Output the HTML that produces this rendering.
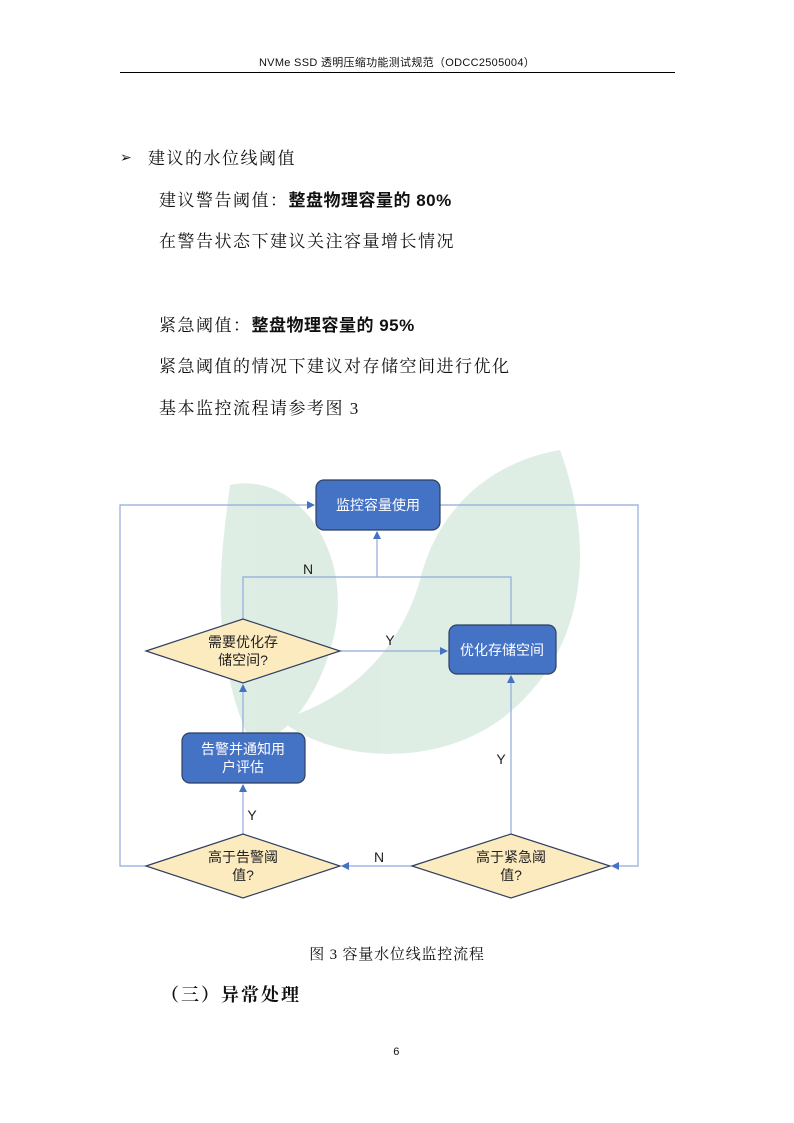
<!DOCTYPE html>
<html><head><meta charset="utf-8"><style>
body{margin:0;background:#fff}
#p{position:relative;width:794px;height:1123px;overflow:hidden;font-family:"Liberation Serif","Noto Serif CJK SC","Noto Sans CJK SC",serif;color:#111}
.t{position:absolute;font-size:17px;white-space:nowrap;line-height:20px;letter-spacing:1.5px}
.b{font-family:"Liberation Sans","Noto Sans CJK SC",sans-serif;font-weight:bold;letter-spacing:0.5px}
</style></head><body><div id="p">
<div class="t" style="left:0;width:794px;text-align:center;top:56px;font-size:11px;line-height:14px;letter-spacing:0.3px;font-family:'Liberation Sans','Noto Sans CJK SC',sans-serif">NVMe SSD 透明压缩功能测试规范（ODCC2505004）</div>
<div style="position:absolute;left:120px;top:72px;width:555px;height:1px;background:#000"></div>
<svg style="position:absolute;left:0;top:0" width="794" height="1123">
<g fill="#c9e2d3" opacity="0.6">
<path d="M230 485 C300 470 360 560 330 650 C310 720 260 760 245 730 C210 640 220 560 230 485Z"/>
<path d="M560 450 C600 560 580 660 500 720 C430 770 330 760 280 720 C350 700 400 650 420 580 C440 500 500 460 560 450Z"/>
</g>
<defs><marker id="a" markerWidth="8" markerHeight="8" refX="7" refY="4" orient="auto" markerUnits="userSpaceOnUse"><path d="M0,0 L8,4 L0,8Z" fill="#4472c4"/></marker></defs>
<g stroke="#8faadc" stroke-width="1.2" fill="none">
<polyline points="146,866 120,866 120,505 314,505" marker-end="url(#a)"/>
<polyline points="440,505 638,505 638,866 612,866" marker-end="url(#a)"/>
<polyline points="243,619 243,577 511,577 511,625"/>
<line x1="377" y1="577" x2="377" y2="532" marker-end="url(#a)"/>
<line x1="340" y1="651" x2="447" y2="651" marker-end="url(#a)"/>
<line x1="243" y1="733" x2="243" y2="685" marker-end="url(#a)"/>
<line x1="243" y1="834" x2="243" y2="785" marker-end="url(#a)"/>
<line x1="511" y1="834" x2="511" y2="676" marker-end="url(#a)"/>
<line x1="412" y1="866" x2="342" y2="866" marker-end="url(#a)"/>
</g>
<g stroke="#2f3f5f" stroke-width="1.2">
<rect x="316" y="480" width="124" height="50" rx="8" fill="#4472c4"/>
<rect x="449" y="625" width="107" height="49" rx="8" fill="#4472c4"/>
<rect x="182" y="733" width="123" height="50" rx="8" fill="#4472c4"/>
<polygon points="146,651 243,619 340,651 243,683" fill="#fdebc0"/>
<polygon points="146,866 243,834 340,866 243,898" fill="#fdebc0"/>
<polygon points="412,866 511,834 610,866 511,898" fill="#fdebc0"/>
</g>
<g font-family="Liberation Sans,Noto Sans CJK SC,sans-serif" font-size="14" text-anchor="middle">
<text x="378" y="510" fill="#fff">监控容量使用</text>
<text x="502" y="655" fill="#fff">优化存储空间</text>
<text x="243" y="754" fill="#fff">告警并通知用</text>
<text x="243" y="772" fill="#fff">户评估</text>
<text x="243" y="647" fill="#222">需要优化存</text>
<text x="243" y="665" fill="#222">储空间?</text>
<text x="243" y="862" fill="#222">高于告警阈</text>
<text x="243" y="880" fill="#222">值?</text>
<text x="511" y="862" fill="#222">高于紧急阈</text>
<text x="511" y="880" fill="#222">值?</text>
<g fill="#222"><text x="308" y="574">N</text><text x="390" y="645">Y</text><text x="252" y="820">Y</text><text x="501" y="764">Y</text><text x="379" y="862">N</text></g>
</g>
</svg>
<div class="t" style="left:120px;top:149px;font-size:14px">➢</div>
<div class="t" style="left:148px;top:149px">建议的水位线阈值</div>
<div class="t" style="left:159px;top:191px">建议警告阈值：<span class="b">整盘物理容量的 80%</span></div>
<div class="t" style="left:159px;top:232px">在警告状态下建议关注容量增长情况</div>
<div class="t" style="left:159px;top:316px">紧急阈值：<span class="b">整盘物理容量的 95%</span></div>
<div class="t" style="left:159px;top:357px">紧急阈值的情况下建议对存储空间进行优化</div>
<div class="t" style="left:159px;top:399px">基本监控流程请参考图 3</div>
<div class="t" style="left:0;width:794px;text-align:center;top:945px;font-size:15px;letter-spacing:0.8px">图 3 容量水位线监控流程</div>
<div class="t b" style="left:161px;top:985px;font-size:18px;letter-spacing:2px;font-family:'Liberation Serif','Noto Serif CJK SC',serif">（三）异常处理</div>
<div class="t" style="left:0;width:794px;text-align:center;top:1042px;font-size:11px;font-family:'Liberation Sans',sans-serif">6</div>
</div></body></html>
